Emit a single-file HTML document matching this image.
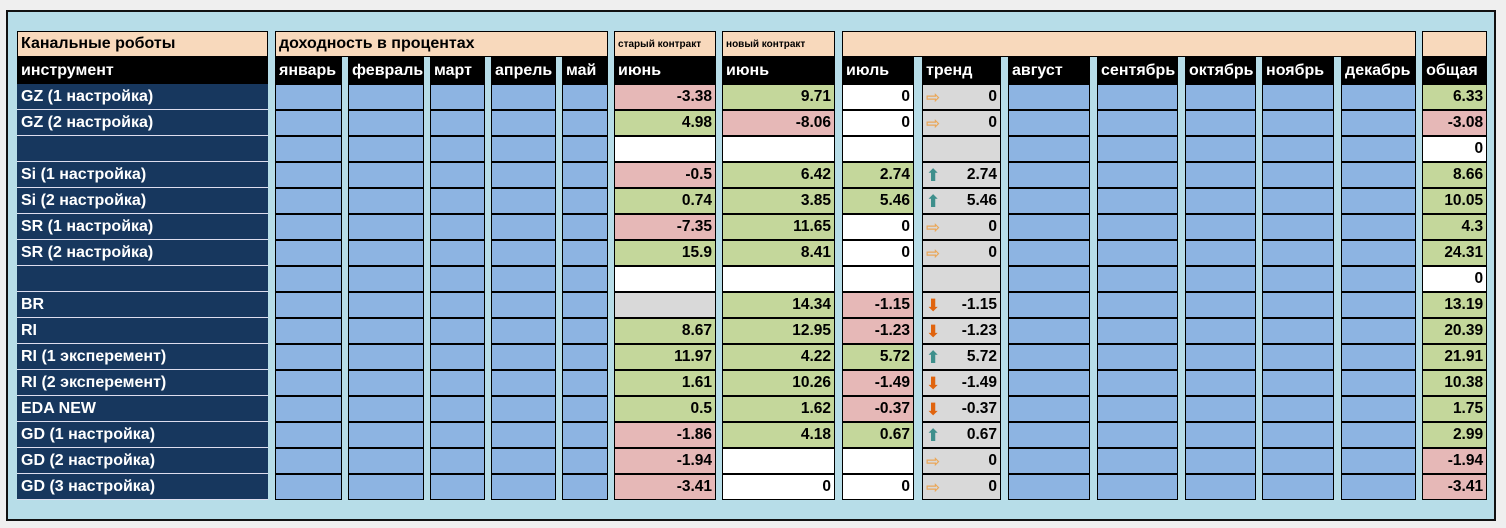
<!DOCTYPE html>
<html><head><meta charset="utf-8"><style>
body{margin:0;width:1506px;height:528px;background:#efefef;position:relative;overflow:hidden;font-family:"Liberation Sans","DejaVu Sans",sans-serif}
#fr{position:absolute;left:6px;top:10px;width:1486px;height:507px;background:#b7dde8;border:2px solid #111}
table{position:absolute;left:17px;top:31px;border-collapse:separate;border-spacing:0;table-layout:fixed;width:1470px}
td{padding:0 4px;height:26px;box-sizing:border-box;font-weight:bold;font-size:15.5px;white-space:nowrap;overflow:hidden;text-align:right;box-shadow:inset 0 0 0 1px #000;vertical-align:middle}
td.g{background:#b7dde8;box-shadow:none;padding:0}
td.n{background:#17375e;color:#fff;text-align:left;box-shadow:inset 0 -1px 0 #dde;font-size:16px}
td.b{background:#8db4e2}
td.gr{background:#c4d79b}td.r{background:#e6b8b7}td.w{background:#fff}td.t{background:#d9d9d9}
td.h{background:#f8d9bc;text-align:left;height:26px;font-size:16px}
td.k{background:#000;color:#fff;text-align:left;height:27px;font-size:16px}
td.s{font-size:10px}
.u,.d,.rt{float:left;font-size:17px;line-height:16px;height:16px;margin-top:2px}
.u{color:#3e8f8c}.d{color:#e0640e}.rt{color:#eaa85a}
</style></head><body><div id="fr"></div>
<table>
<colgroup><col style="width:251px"><col style="width:7px"><col style="width:67px"><col style="width:6px"><col style="width:76px"><col style="width:6px"><col style="width:55px"><col style="width:6px"><col style="width:65px"><col style="width:6px"><col style="width:46px"><col style="width:6px"><col style="width:102px"><col style="width:6px"><col style="width:113px"><col style="width:7px"><col style="width:72px"><col style="width:8px"><col style="width:79px"><col style="width:7px"><col style="width:82px"><col style="width:7px"><col style="width:81px"><col style="width:7px"><col style="width:71px"><col style="width:6px"><col style="width:72px"><col style="width:7px"><col style="width:75px"><col style="width:6px"><col style="width:65px"></colgroup>
<tr><td class="h">Канальные роботы</td><td class="g"></td><td class="h" colspan="9">доходность в процентах</td><td class="g"></td><td class="h s">старый контракт</td><td class="g"></td><td class="h s">новый контракт</td><td class="g"></td><td class="h" colspan="13"></td><td class="g"></td><td class="h"></td></tr>
<tr><td class="k">инструмент</td><td class="g"></td><td class="k">январь</td><td class="g"></td><td class="k">февраль</td><td class="g"></td><td class="k">март</td><td class="g"></td><td class="k">апрель</td><td class="g"></td><td class="k">май</td><td class="g"></td><td class="k">июнь</td><td class="g"></td><td class="k">июнь</td><td class="g"></td><td class="k">июль</td><td class="g"></td><td class="k">тренд</td><td class="g"></td><td class="k">август</td><td class="g"></td><td class="k">сентябрь</td><td class="g"></td><td class="k">октябрь</td><td class="g"></td><td class="k">ноябрь</td><td class="g"></td><td class="k">декабрь</td><td class="g"></td><td class="k">общая</td></tr>
<tr><td class="n">GZ (1 настройка)</td><td class="g"></td><td class="b"></td><td class="g"></td><td class="b"></td><td class="g"></td><td class="b"></td><td class="g"></td><td class="b"></td><td class="g"></td><td class="b"></td><td class="g"></td><td class="r">-3.38</td><td class="g"></td><td class="gr">9.71</td><td class="g"></td><td class="w">0</td><td class="g"></td><td class="t"><span class="rt">⇨</span>0</td><td class="g"></td><td class="b"></td><td class="g"></td><td class="b"></td><td class="g"></td><td class="b"></td><td class="g"></td><td class="b"></td><td class="g"></td><td class="b"></td><td class="g"></td><td class="gr">6.33</td></tr>
<tr><td class="n">GZ (2 настройка)</td><td class="g"></td><td class="b"></td><td class="g"></td><td class="b"></td><td class="g"></td><td class="b"></td><td class="g"></td><td class="b"></td><td class="g"></td><td class="b"></td><td class="g"></td><td class="gr">4.98</td><td class="g"></td><td class="r">-8.06</td><td class="g"></td><td class="w">0</td><td class="g"></td><td class="t"><span class="rt">⇨</span>0</td><td class="g"></td><td class="b"></td><td class="g"></td><td class="b"></td><td class="g"></td><td class="b"></td><td class="g"></td><td class="b"></td><td class="g"></td><td class="b"></td><td class="g"></td><td class="r">-3.08</td></tr>
<tr><td class="n"></td><td class="g"></td><td class="b"></td><td class="g"></td><td class="b"></td><td class="g"></td><td class="b"></td><td class="g"></td><td class="b"></td><td class="g"></td><td class="b"></td><td class="g"></td><td class="w"></td><td class="g"></td><td class="w"></td><td class="g"></td><td class="w"></td><td class="g"></td><td class="t"></td><td class="g"></td><td class="b"></td><td class="g"></td><td class="b"></td><td class="g"></td><td class="b"></td><td class="g"></td><td class="b"></td><td class="g"></td><td class="b"></td><td class="g"></td><td class="w">0</td></tr>
<tr><td class="n">Si (1 настройка)</td><td class="g"></td><td class="b"></td><td class="g"></td><td class="b"></td><td class="g"></td><td class="b"></td><td class="g"></td><td class="b"></td><td class="g"></td><td class="b"></td><td class="g"></td><td class="r">-0.5</td><td class="g"></td><td class="gr">6.42</td><td class="g"></td><td class="gr">2.74</td><td class="g"></td><td class="t"><span class="u">⬆</span>2.74</td><td class="g"></td><td class="b"></td><td class="g"></td><td class="b"></td><td class="g"></td><td class="b"></td><td class="g"></td><td class="b"></td><td class="g"></td><td class="b"></td><td class="g"></td><td class="gr">8.66</td></tr>
<tr><td class="n">Si (2 настройка)</td><td class="g"></td><td class="b"></td><td class="g"></td><td class="b"></td><td class="g"></td><td class="b"></td><td class="g"></td><td class="b"></td><td class="g"></td><td class="b"></td><td class="g"></td><td class="gr">0.74</td><td class="g"></td><td class="gr">3.85</td><td class="g"></td><td class="gr">5.46</td><td class="g"></td><td class="t"><span class="u">⬆</span>5.46</td><td class="g"></td><td class="b"></td><td class="g"></td><td class="b"></td><td class="g"></td><td class="b"></td><td class="g"></td><td class="b"></td><td class="g"></td><td class="b"></td><td class="g"></td><td class="gr">10.05</td></tr>
<tr><td class="n">SR (1 настройка)</td><td class="g"></td><td class="b"></td><td class="g"></td><td class="b"></td><td class="g"></td><td class="b"></td><td class="g"></td><td class="b"></td><td class="g"></td><td class="b"></td><td class="g"></td><td class="r">-7.35</td><td class="g"></td><td class="gr">11.65</td><td class="g"></td><td class="w">0</td><td class="g"></td><td class="t"><span class="rt">⇨</span>0</td><td class="g"></td><td class="b"></td><td class="g"></td><td class="b"></td><td class="g"></td><td class="b"></td><td class="g"></td><td class="b"></td><td class="g"></td><td class="b"></td><td class="g"></td><td class="gr">4.3</td></tr>
<tr><td class="n">SR (2 настройка)</td><td class="g"></td><td class="b"></td><td class="g"></td><td class="b"></td><td class="g"></td><td class="b"></td><td class="g"></td><td class="b"></td><td class="g"></td><td class="b"></td><td class="g"></td><td class="gr">15.9</td><td class="g"></td><td class="gr">8.41</td><td class="g"></td><td class="w">0</td><td class="g"></td><td class="t"><span class="rt">⇨</span>0</td><td class="g"></td><td class="b"></td><td class="g"></td><td class="b"></td><td class="g"></td><td class="b"></td><td class="g"></td><td class="b"></td><td class="g"></td><td class="b"></td><td class="g"></td><td class="gr">24.31</td></tr>
<tr><td class="n"></td><td class="g"></td><td class="b"></td><td class="g"></td><td class="b"></td><td class="g"></td><td class="b"></td><td class="g"></td><td class="b"></td><td class="g"></td><td class="b"></td><td class="g"></td><td class="w"></td><td class="g"></td><td class="w"></td><td class="g"></td><td class="w"></td><td class="g"></td><td class="t"></td><td class="g"></td><td class="b"></td><td class="g"></td><td class="b"></td><td class="g"></td><td class="b"></td><td class="g"></td><td class="b"></td><td class="g"></td><td class="b"></td><td class="g"></td><td class="w">0</td></tr>
<tr><td class="n">BR</td><td class="g"></td><td class="b"></td><td class="g"></td><td class="b"></td><td class="g"></td><td class="b"></td><td class="g"></td><td class="b"></td><td class="g"></td><td class="b"></td><td class="g"></td><td class="t"></td><td class="g"></td><td class="gr">14.34</td><td class="g"></td><td class="r">-1.15</td><td class="g"></td><td class="t"><span class="d">⬇</span>-1.15</td><td class="g"></td><td class="b"></td><td class="g"></td><td class="b"></td><td class="g"></td><td class="b"></td><td class="g"></td><td class="b"></td><td class="g"></td><td class="b"></td><td class="g"></td><td class="gr">13.19</td></tr>
<tr><td class="n">RI</td><td class="g"></td><td class="b"></td><td class="g"></td><td class="b"></td><td class="g"></td><td class="b"></td><td class="g"></td><td class="b"></td><td class="g"></td><td class="b"></td><td class="g"></td><td class="gr">8.67</td><td class="g"></td><td class="gr">12.95</td><td class="g"></td><td class="r">-1.23</td><td class="g"></td><td class="t"><span class="d">⬇</span>-1.23</td><td class="g"></td><td class="b"></td><td class="g"></td><td class="b"></td><td class="g"></td><td class="b"></td><td class="g"></td><td class="b"></td><td class="g"></td><td class="b"></td><td class="g"></td><td class="gr">20.39</td></tr>
<tr><td class="n">RI (1 эксперемент)</td><td class="g"></td><td class="b"></td><td class="g"></td><td class="b"></td><td class="g"></td><td class="b"></td><td class="g"></td><td class="b"></td><td class="g"></td><td class="b"></td><td class="g"></td><td class="gr">11.97</td><td class="g"></td><td class="gr">4.22</td><td class="g"></td><td class="gr">5.72</td><td class="g"></td><td class="t"><span class="u">⬆</span>5.72</td><td class="g"></td><td class="b"></td><td class="g"></td><td class="b"></td><td class="g"></td><td class="b"></td><td class="g"></td><td class="b"></td><td class="g"></td><td class="b"></td><td class="g"></td><td class="gr">21.91</td></tr>
<tr><td class="n">RI (2 эксперемент)</td><td class="g"></td><td class="b"></td><td class="g"></td><td class="b"></td><td class="g"></td><td class="b"></td><td class="g"></td><td class="b"></td><td class="g"></td><td class="b"></td><td class="g"></td><td class="gr">1.61</td><td class="g"></td><td class="gr">10.26</td><td class="g"></td><td class="r">-1.49</td><td class="g"></td><td class="t"><span class="d">⬇</span>-1.49</td><td class="g"></td><td class="b"></td><td class="g"></td><td class="b"></td><td class="g"></td><td class="b"></td><td class="g"></td><td class="b"></td><td class="g"></td><td class="b"></td><td class="g"></td><td class="gr">10.38</td></tr>
<tr><td class="n">EDA NEW</td><td class="g"></td><td class="b"></td><td class="g"></td><td class="b"></td><td class="g"></td><td class="b"></td><td class="g"></td><td class="b"></td><td class="g"></td><td class="b"></td><td class="g"></td><td class="gr">0.5</td><td class="g"></td><td class="gr">1.62</td><td class="g"></td><td class="r">-0.37</td><td class="g"></td><td class="t"><span class="d">⬇</span>-0.37</td><td class="g"></td><td class="b"></td><td class="g"></td><td class="b"></td><td class="g"></td><td class="b"></td><td class="g"></td><td class="b"></td><td class="g"></td><td class="b"></td><td class="g"></td><td class="gr">1.75</td></tr>
<tr><td class="n">GD (1 настройка)</td><td class="g"></td><td class="b"></td><td class="g"></td><td class="b"></td><td class="g"></td><td class="b"></td><td class="g"></td><td class="b"></td><td class="g"></td><td class="b"></td><td class="g"></td><td class="r">-1.86</td><td class="g"></td><td class="gr">4.18</td><td class="g"></td><td class="gr">0.67</td><td class="g"></td><td class="t"><span class="u">⬆</span>0.67</td><td class="g"></td><td class="b"></td><td class="g"></td><td class="b"></td><td class="g"></td><td class="b"></td><td class="g"></td><td class="b"></td><td class="g"></td><td class="b"></td><td class="g"></td><td class="gr">2.99</td></tr>
<tr><td class="n">GD (2 настройка)</td><td class="g"></td><td class="b"></td><td class="g"></td><td class="b"></td><td class="g"></td><td class="b"></td><td class="g"></td><td class="b"></td><td class="g"></td><td class="b"></td><td class="g"></td><td class="r">-1.94</td><td class="g"></td><td class="w"></td><td class="g"></td><td class="w"></td><td class="g"></td><td class="t"><span class="rt">⇨</span>0</td><td class="g"></td><td class="b"></td><td class="g"></td><td class="b"></td><td class="g"></td><td class="b"></td><td class="g"></td><td class="b"></td><td class="g"></td><td class="b"></td><td class="g"></td><td class="r">-1.94</td></tr>
<tr><td class="n">GD (3 настройка)</td><td class="g"></td><td class="b"></td><td class="g"></td><td class="b"></td><td class="g"></td><td class="b"></td><td class="g"></td><td class="b"></td><td class="g"></td><td class="b"></td><td class="g"></td><td class="r">-3.41</td><td class="g"></td><td class="w">0</td><td class="g"></td><td class="w">0</td><td class="g"></td><td class="t"><span class="rt">⇨</span>0</td><td class="g"></td><td class="b"></td><td class="g"></td><td class="b"></td><td class="g"></td><td class="b"></td><td class="g"></td><td class="b"></td><td class="g"></td><td class="b"></td><td class="g"></td><td class="r">-3.41</td></tr>
</table>
</body></html>
